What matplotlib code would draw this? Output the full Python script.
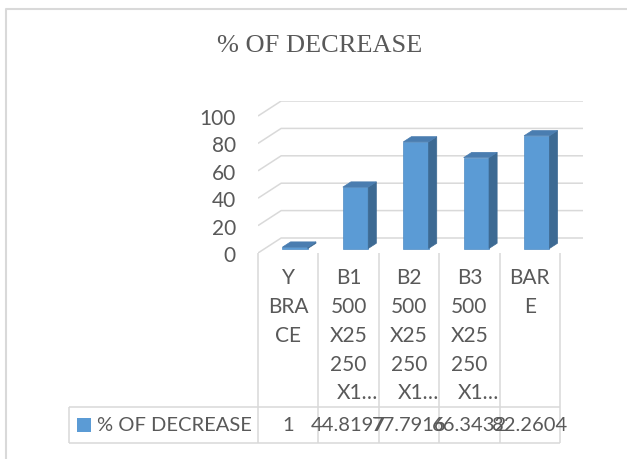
import matplotlib
matplotlib.use("Agg")
import matplotlib.pyplot as plt
from matplotlib.patches import Polygon, Rectangle
from matplotlib.transforms import blended_transform_factory

# datos del grafico
categories = [["Y", "BRA", "CE"],
              ["B1", "500", "X25", "250", "X1\u2026"],
              ["B2", "500", "X25", "250", "X1\u2026"],
              ["B3", "500", "X25", "250", "X1\u2026"],
              ["BAR", "E"]]
values = [1, 44.8197, 77.7916, 66.3432, 82.2604]
yticks = [0, 20, 40, 60, 80, 100]
series_name = "% OF DECREASE"
title = "% OF DECREASE"

W, H = 627, 460
TXT = "#595959"
GRID = "#d9d9d9"
FRONT = "#5b9bd5"
SIDE = "#3d6a93"
TOP = "#4a7db0"
FONT = "Lato"
FS = 15
FS_TAB = 14.5

fig = plt.figure(figsize=(W / 100, H / 100), dpi=100)

# capa en pixeles para borde, titulo y tabla
over = fig.add_axes([0, 0, 1, 1])
over.set_xlim(0, W)
over.set_ylim(H, 0)
over.axis("off")

n = len(values)
DX = 23 / 60          # profundidad de la pared (en categorias)
px_per_unit = 1.37
DY = 15 / px_per_unit  # profundidad de la pared (en unidades)
x_left, y_zero = 258, 254
ax_w = (n + DX) * 60.4
ax_h = (100 + DY) * px_per_unit
ax = fig.add_axes([x_left / W, (H - y_zero) / H, ax_w / W, ax_h / H])
ax.set_xlim(0, n + DX)
ax.set_ylim(0, 100 + DY)
for s in ax.spines.values():
    s.set_visible(False)
ax.set_xticks([])
ax.set_yticks(yticks)
ax.set_yticklabels([str(t) for t in yticks], fontsize=FS, color=TXT, family=FONT)
ax.tick_params(axis="y", length=0, pad=16)
ax.patch.set_alpha(0)

# lineas de cuadricula con efecto 3D
for t in yticks:
    ax.plot([0, DX, n + DX], [t, t + DY, t + DY], color=GRID, lw=1.1,
            solid_capstyle="butt", zorder=1)

# barras 3D
bw = 0.42
d0 = 0.3
dd = 0.35
for i, v in enumerate(values):
    x0 = i + 0.5 - bw / 2 + d0 * DX
    y0 = d0 * DY
    ox, oy = dd * DX, dd * DY
    ax.add_patch(Rectangle((x0, y0), bw, v, facecolor=FRONT,
                           edgecolor="#4f8cc4", lw=0.5, zorder=3))
    ax.add_patch(Polygon([(x0 + bw, y0), (x0 + bw + ox, y0 + oy),
                          (x0 + bw + ox, y0 + v + oy), (x0 + bw, y0 + v)],
                         closed=True, facecolor=SIDE, edgecolor=SIDE,
                         lw=0.5, zorder=3))
    ax.add_patch(Polygon([(x0, y0 + v), (x0 + bw, y0 + v),
                          (x0 + bw + ox, y0 + v + oy), (x0 + ox, y0 + v + oy)],
                         closed=True, facecolor=TOP, edgecolor=TOP,
                         lw=0.5, zorder=3))

# borde del grafico
over.plot([6, 6, W], [H, 10, 10], color=GRID, lw=1.5, solid_capstyle="butt")

# titulo
over.text(319.5, 46.5, title, ha="center", va="center", fontsize=19,
          color=TXT, family="Liberation Serif")

# tabla de datos: x en unidades de categoria, y en pixeles
tr = blended_transform_factory(ax.transData, over.transData)
row_top, row_bot = 408, 444
for i in range(n + 1):
    over.plot([i, i], [y_zero, row_bot], transform=tr, color=GRID, lw=1.1,
              solid_capstyle="butt")
for yy in (row_top, row_bot):
    over.plot([69, x_left], [yy, yy], color=GRID, lw=1.1, solid_capstyle="butt")
    over.plot([0, n], [yy, yy], transform=tr, color=GRID, lw=1.1,
              solid_capstyle="butt")
over.plot([69, 69], [row_top, row_bot], color=GRID, lw=1.1, solid_capstyle="butt")

line_y = [278, 307, 336, 365, 393]
for i, lines in enumerate(categories):
    for j, s in enumerate(lines):
        dx_off = 0.15 if s.startswith("X1") else 0
        over.text(i + 0.5 + dx_off, line_y[j], s, transform=tr, ha="center",
                  va="center", fontsize=FS, color=TXT, family=FONT)

# fila de valores
ymid = (row_top + row_bot) / 2
over.add_patch(Rectangle((77, ymid - 7), 14, 14, facecolor=FRONT, edgecolor="none"))
over.text(97, ymid, series_name, ha="left", va="center", fontsize=FS_TAB,
          color=TXT, family=FONT)
for i, v in enumerate(values):
    over.text(i + 0.5, ymid, f"{v:g}", transform=tr, ha="center", va="center",
              fontsize=FS_TAB, color=TXT, family=FONT)

fig.savefig("out.png", dpi=100)
